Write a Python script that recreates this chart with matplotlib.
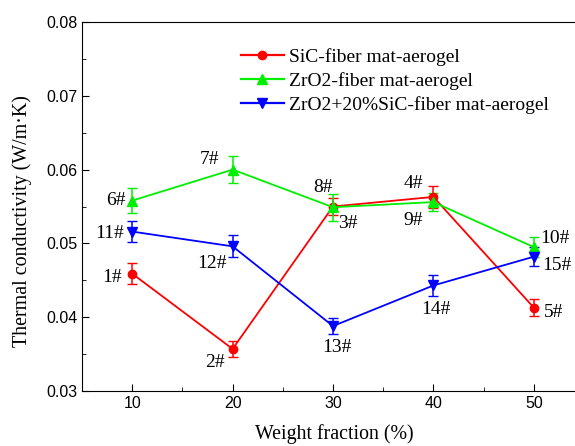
import numpy as np
import matplotlib.pyplot as plt
from matplotlib.lines import Line2D

# weight fraction (%)
x = [10, 20, 30, 40, 50]

sic = [0.0459, 0.0357, 0.0550, 0.0563, 0.0413]
sic_err = [0.0014, 0.0011, 0.0012, 0.0015, 0.0012]
sic_lab = ["1#", "2#", "3#", "4#", "5#"]

zro2 = [0.0558, 0.0600, 0.0549, 0.0556, 0.0495]
zro2_err = [0.0017, 0.0018, 0.0018, 0.0012, 0.0013]
zro2_lab = ["6#", "7#", "8#", "9#", "10#"]

mix = [0.0516, 0.0496, 0.0388, 0.0443, 0.0482]
mix_err = [0.0014, 0.0015, 0.0011, 0.0014, 0.0013]
mix_lab = ["11#", "12#", "13#", "14#", "15#"]

names = ["SiC-fiber mat-aerogel", "ZrO2-fiber mat-aerogel", "ZrO2+20%SiC-fiber mat-aerogel"]

# label offsets in pixels
sic_off = [(-20, -4), (-18, -14), (15, -17), (-20, 13), (20, -5)]
zro2_off = [(-16, 0), (-23, 10), (-10, 20), (-20, -18), (21, 9)]
mix_off = [(-23, -2), (-21, -17), (4, -21), (3, -24), (23, -9)]

fig = plt.figure(figsize=(5.75, 4.46), dpi=100)
ax = fig.add_axes([82/575, 1-391/446, 502/575, 369/446])

cols = ["#ff0000", "#00ee00", "#0000ff"]
marks = ["o", "^", "v"]
sizes = [6, 7, 7]
handles = []
for ys, err, c, m, s, n in zip([sic, zro2, mix], [sic_err, zro2_err, mix_err], cols, marks, sizes, names):
    ax.errorbar(x, ys, yerr=err, color=c, marker=m, ms=s, lw=1.3,
                capsize=3.5, elinewidth=1.1)
    handles.append(Line2D([], [], color=c, marker=m, ms=s, lw=1.6, label=n))

for ys, labs, offs in [(sic, sic_lab, sic_off), (zro2, zro2_lab, zro2_off), (mix, mix_lab, mix_off)]:
    for xi, yi, t, o in zip(x, ys, labs, offs):
        ax.annotate(t, (xi, yi), xytext=o, textcoords="offset pixels",
                    ha="center", va="center", family="Liberation Serif", fontsize=14)

ax.set_xlim(5, 55)
ax.set_ylim(0.03, 0.08)
ax.set_xticks([10, 20, 30, 40, 50])
ax.set_xticks([15, 25, 35, 45], minor=True)
ax.set_yticks([0.03, 0.04, 0.05, 0.06, 0.07, 0.08])
ax.set_yticks([0.035, 0.045, 0.055, 0.065, 0.075], minor=True)
ax.tick_params(which="both", direction="in", labelsize=11.5, right=False)
ax.tick_params(which="major", length=5)
ax.tick_params(which="minor", length=3)
for lb in ax.get_xticklabels() + ax.get_yticklabels():
    lb.set_family("Liberation Sans")
ax.spines["right"].set_visible(False)

ax.set_xlabel("Weight fraction (%)", family="Liberation Serif", fontsize=14.3)
ax.set_ylabel("Thermal conductivity (W/m·K)", family="Liberation Serif", fontsize=14.4)
ax.xaxis.set_label_coords(0.502, -0.091)
ax.yaxis.set_label_coords(-0.100, 0.461)

ax.legend(handles=handles, loc="upper left", bbox_to_anchor=(231/575, 1-38/446),
          bbox_transform=fig.transFigure, frameon=False,
          prop={"family": "Liberation Serif", "size": 14},
          handlelength=2.2, handletextpad=0.3, labelspacing=0.33, borderpad=0)

fig.savefig("out.png", dpi=100)
